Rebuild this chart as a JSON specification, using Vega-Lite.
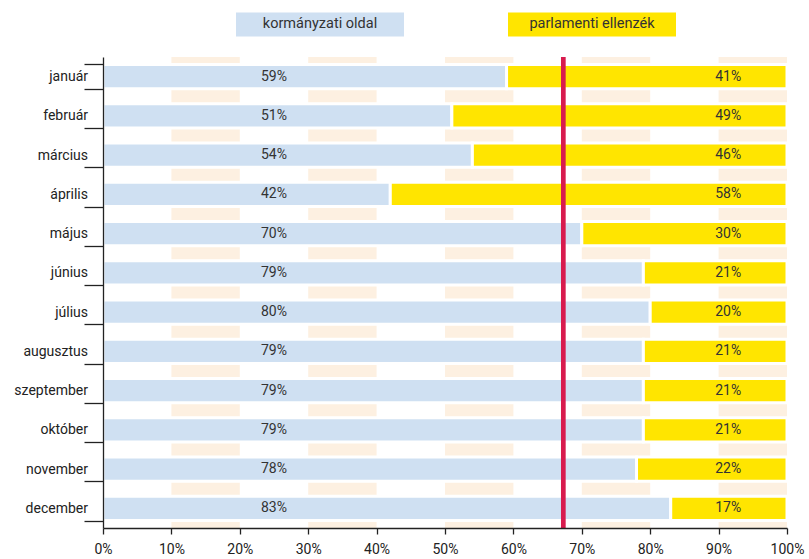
{
  "$schema": "https://vega.github.io/schema/vega-lite/v6.json",
  "width": 684,
  "height": 471,
  "autosize": {"type": "none"},
  "padding": {"left": 103, "top": 57, "right": 22, "bottom": 31},
  "background": "white",
  "config": {"view": {"stroke": null}, "font": "Roboto"},
  "datasets": {
    "bands": [
      {"from": 0.1, "to": 0.2},
      {"from": 0.3, "to": 0.4},
      {"from": 0.5, "to": 0.6},
      {"from": 0.7, "to": 0.8},
      {"from": 0.9, "to": 1.0}
    ],
    "votes": [
      {"month": "január", "side": "kormányzati oldal", "share": 0.59},
      {"month": "január", "side": "parlamenti ellenzék", "share": 0.41},
      {"month": "február", "side": "kormányzati oldal", "share": 0.51},
      {"month": "február", "side": "parlamenti ellenzék", "share": 0.49},
      {"month": "március", "side": "kormányzati oldal", "share": 0.54},
      {"month": "március", "side": "parlamenti ellenzék", "share": 0.46},
      {"month": "április", "side": "kormányzati oldal", "share": 0.42},
      {"month": "április", "side": "parlamenti ellenzék", "share": 0.58},
      {"month": "május", "side": "kormányzati oldal", "share": 0.70},
      {"month": "május", "side": "parlamenti ellenzék", "share": 0.30},
      {"month": "június", "side": "kormányzati oldal", "share": 0.79},
      {"month": "június", "side": "parlamenti ellenzék", "share": 0.21},
      {"month": "július", "side": "kormányzati oldal", "share": 0.80},
      {"month": "július", "side": "parlamenti ellenzék", "share": 0.20},
      {"month": "augusztus", "side": "kormányzati oldal", "share": 0.79},
      {"month": "augusztus", "side": "parlamenti ellenzék", "share": 0.21},
      {"month": "szeptember", "side": "kormányzati oldal", "share": 0.79},
      {"month": "szeptember", "side": "parlamenti ellenzék", "share": 0.21},
      {"month": "október", "side": "kormányzati oldal", "share": 0.79},
      {"month": "október", "side": "parlamenti ellenzék", "share": 0.21},
      {"month": "november", "side": "kormányzati oldal", "share": 0.78},
      {"month": "november", "side": "parlamenti ellenzék", "share": 0.22},
      {"month": "december", "side": "kormányzati oldal", "share": 0.83},
      {"month": "december", "side": "parlamenti ellenzék", "share": 0.17}
    ]
  },
  "layer": [
    {
      "data": {"name": "bands"},
      "mark": {"type": "rect", "color": "#FDF0E1"},
      "encoding": {
        "x": {"field": "from", "type": "quantitative", "scale": {"domain": [0, 1], "nice": false, "zero": true}},
        "x2": {"field": "to"}
      }
    },
    {
      "data": {"name": "votes"},
      "mark": {"type": "bar", "stroke": "white", "strokeWidth": 3},
      "encoding": {
        "y": {
          "field": "month", "type": "nominal", "sort": null,
          "scale": {"paddingInner": 0.38, "paddingOuter": 0.19},
          "axis": {
            "title": null, "tickBand": "extent", "tickSize": 19, "labelPadding": -3.5,
            "domainColor": "#222", "domainWidth": 1.3, "tickColor": "#222", "tickWidth": 1.3,
            "labelFont": "Roboto", "labelFontSize": 14, "labelColor": "#222", "zindex": 1
          }
        },
        "x": {
          "field": "share", "type": "quantitative", "stack": "zero",
          "axis": {
            "title": null, "format": ".0%", "values": [0, 0.1, 0.2, 0.3, 0.4, 0.5, 0.6, 0.7, 0.8, 0.9, 1],
            "grid": false, "domainColor": "#222", "domainWidth": 1.3, "tickColor": "#222", "tickWidth": 1.3,
            "tickSize": 6, "labelPadding": 8, "labelFont": "Roboto", "labelFontSize": 14,
            "labelColor": "#222", "labelFlush": false, "zindex": 1
          }
        },
        "color": {
          "field": "side", "type": "nominal",
          "scale": {"domain": ["kormányzati oldal", "parlamenti ellenzék"], "range": ["#CFE0F2", "#FFE500"]},
          "legend": {
            "orient": "none", "legendX": 133, "legendY": -117, "direction": "horizontal", "title": null,
            "symbolType": "M-1,-0.1429H1V0.1429H-1Z", "symbolSize": 28224, "symbolStrokeWidth": 0,
            "symbolOpacity": 1, "labelAlign": "center", "labelOffset": -84, "labelFontSize": 14.5,
            "labelFont": "Roboto", "labelColor": "#333", "columnPadding": 104, "padding": 0, "labelLimit": 300
          }
        }
      }
    },
    {
      "data": {"name": "votes"},
      "transform": [{"filter": "datum.side === 'kormányzati oldal'"}],
      "mark": {"type": "text", "font": "Roboto", "fontSize": 14, "color": "#333"},
      "encoding": {
        "y": {"field": "month", "type": "nominal", "sort": null},
        "x": {"datum": 0.25},
        "text": {"field": "share", "type": "quantitative", "format": ".0%"}
      }
    },
    {
      "data": {"name": "votes"},
      "transform": [{"filter": "datum.side === 'parlamenti ellenzék'"}],
      "mark": {"type": "text", "font": "Roboto", "fontSize": 14, "color": "#333"},
      "encoding": {
        "y": {"field": "month", "type": "nominal", "sort": null},
        "x": {"datum": 0.914},
        "text": {"field": "share", "type": "quantitative", "format": ".0%"}
      }
    },
    {
      "data": {"values": [{"threshold": 0.673}]},
      "mark": {"type": "rule", "color": "#D81B4E", "strokeWidth": 4.7},
      "encoding": {"x": {"field": "threshold", "type": "quantitative"}}
    }
  ]
}
